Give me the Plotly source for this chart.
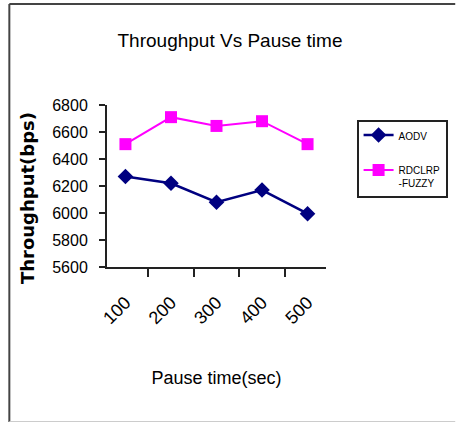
import plotly.graph_objects as go

pause_time = ["100", "200", "300", "400", "500"]
aodv = [6270, 6220, 6080, 6170, 5995]
rdclrp_fuzzy = [6510, 6710, 6645, 6680, 6510]
y_ticks = [5600, 5800, 6000, 6200, 6400, 6600, 6800]

W, H = 460, 423
L, R, T, B = 107, 131, 105, 156
pw, ph = W - L - R, H - T - B


def px(x):
    return (x - L) / pw


def py(y):
    return (H - B - y) / ph


fig = go.Figure()
fig.add_trace(go.Scatter(
    x=pause_time, y=aodv, name="AODV", mode="lines+markers",
    line=dict(color="#000080", width=2.5),
    marker=dict(symbol="diamond", size=12, color="#000080"),
    legendgroup="a",
))
fig.add_trace(go.Scatter(
    x=pause_time, y=rdclrp_fuzzy, name="RDCLRP<br>-FUZZY", mode="lines+markers",
    line=dict(color="#FF00FF", width=2),
    marker=dict(symbol="square", size=12, color="#FF00FF"),
    legendgroup="b",
))

font = "Liberation Sans, Arial, sans-serif"
fig.update_layout(
    width=W, height=H,
    margin=dict(l=L, r=R, t=T, b=B),
    paper_bgcolor="white", plot_bgcolor="white",
    font=dict(family=font, color="black"),
    title=dict(text="Throughput Vs Pause time", x=0.5, xref="container",
               y=1 - 40 / H, yref="container", xanchor="center", yanchor="middle",
               font=dict(size=19, family=font, color="black")),
    xaxis=dict(type="category", showline=True, linecolor="#222", linewidth=2,
               ticks="outside", tickson="boundaries", ticklen=8, tickwidth=2, tickcolor="#222",
               tickangle=-45, tickfont=dict(size=18), showgrid=False, zeroline=False,
               ticklabelstandoff=16,
               title=dict(text="Pause time(sec)", font=dict(size=18), standoff=44)),
    yaxis=dict(range=[5600, 6800], tickvals=y_ticks, showline=True, linecolor="#222",
               linewidth=2, ticks="outside", ticklen=6, tickwidth=2, tickcolor="#222",
               tickfont=dict(size=16), showgrid=False, zeroline=False, ticklabelstandoff=8),
    annotations=[dict(text="<b>Throughput(bps)</b>", textangle=-90, xref="paper", yref="paper",
                      x=px(26), y=py(198), xanchor="center", yanchor="middle", showarrow=False,
                      font=dict(size=18, family="DejaVu Sans", color="black"))],
    legend=dict(x=px(360), y=py(120), xanchor="left", yanchor="top",
                bordercolor="#222", borderwidth=2, bgcolor="white",
                font=dict(size=10, family=font), valign="top", tracegroupgap=16),
    shapes=[
        dict(type="line", xref="paper", yref="paper", x0=px(8), x1=px(8), y0=py(4), y1=py(422),
             line=dict(color="#444", width=2)),
        dict(type="line", xref="paper", yref="paper", x0=px(8), x1=px(460), y0=py(4), y1=py(4),
             line=dict(color="#444", width=2)),
        dict(type="line", xref="paper", yref="paper", x0=px(8), x1=px(460), y0=py(421.5), y1=py(421.5),
             line=dict(color="#ccc", width=1)),
    ],
)

fig.write_html("out.html")
